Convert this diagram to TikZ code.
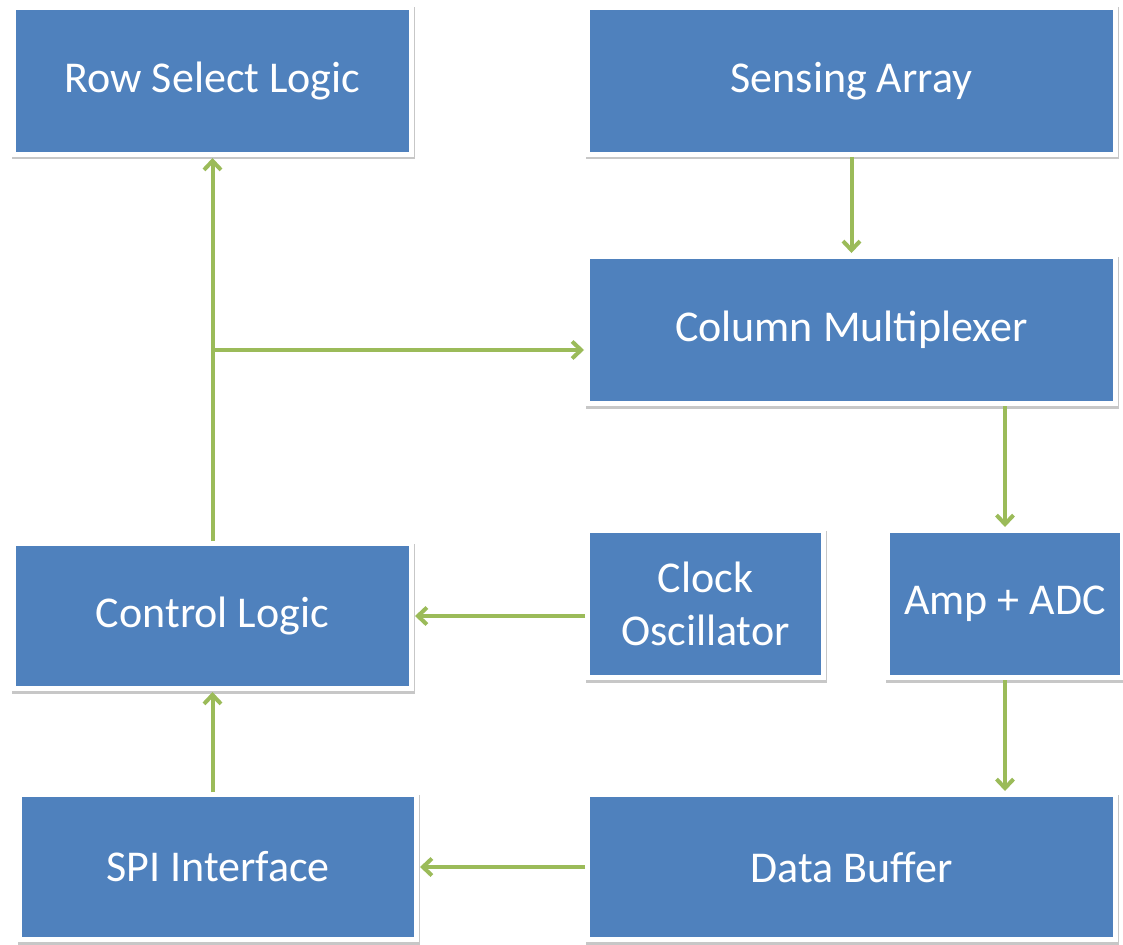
\documentclass[tikz,border=0pt]{standalone}
\usepackage{fontspec}
\setmainfont{Carlito}
\usetikzlibrary{arrows.meta,shadows,calc}
\definecolor{boxblue}{HTML}{4F81BD}
\definecolor{arrgreen}{HTML}{9BBB59}
\begin{document}
\begin{tikzpicture}[x=1pt,y=-1pt,
  blk/.style={rectangle, fill=boxblue, draw=white, line width=5pt,
    text=white, font=\fontsize{44}{53}\selectfont, align=center, inner sep=0pt,
    drop shadow={shadow xshift=1pt, shadow yshift=-2.5pt, opacity=0.22, fill=black, draw=black, line width=5pt}},
  arr/.style={draw=arrgreen, line width=4pt, -{Straight Barb[length=9pt,width=17pt,line width=4pt]}, shorten >=1pt}
]
\useasboundingbox (0,0) rectangle (1123,944);
\fill[white] (0,0) rectangle (1123,944);
\node[blk, minimum width=398pt, minimum height=147pt] (row) at (212.5,81) {Row Select Logic};
\node[blk, minimum width=528pt, minimum height=147pt] (sa) at (851.5,81) {Sensing Array};
\node[blk, minimum width=528pt, minimum height=147pt] (cm) at (851.5,330) {Column Multiplexer};
\node[blk, minimum width=398pt, minimum height=145pt] (ctl) at (212.5,616) {Control Logic};
\node[blk, minimum width=236pt, minimum height=147pt] (clk) at (705.5,604) {Clock\\Oscillator};
\node[blk, minimum width=235pt, minimum height=147pt] (amp) at (1005,604) {Amp + ADC};
\node[blk, minimum width=397pt, minimum height=145pt] (spi) at (218,867) {SPI Interface};
\node[blk, minimum width=528pt, minimum height=145pt] (db) at (851.5,867) {Data Buffer};
\coordinate (br) at (212.5,350);
\draw[arr] (ctl.north) -- (row.south);
\draw[arr] (br) -- (br -| cm.west);
\draw[arr] (sa.south) -- (cm.north);
\draw[arr] (cm.south -| amp) -- (amp.north);
\draw[arr] (amp.south) -- (amp.south |- db.north);
\draw[arr] (clk.west |- ctl.east) -- (ctl.east);
\draw[arr] (db.west) -- (spi.east);
\draw[arr] (spi.north -| ctl) -- (ctl.south);
\end{tikzpicture}
\end{document}
